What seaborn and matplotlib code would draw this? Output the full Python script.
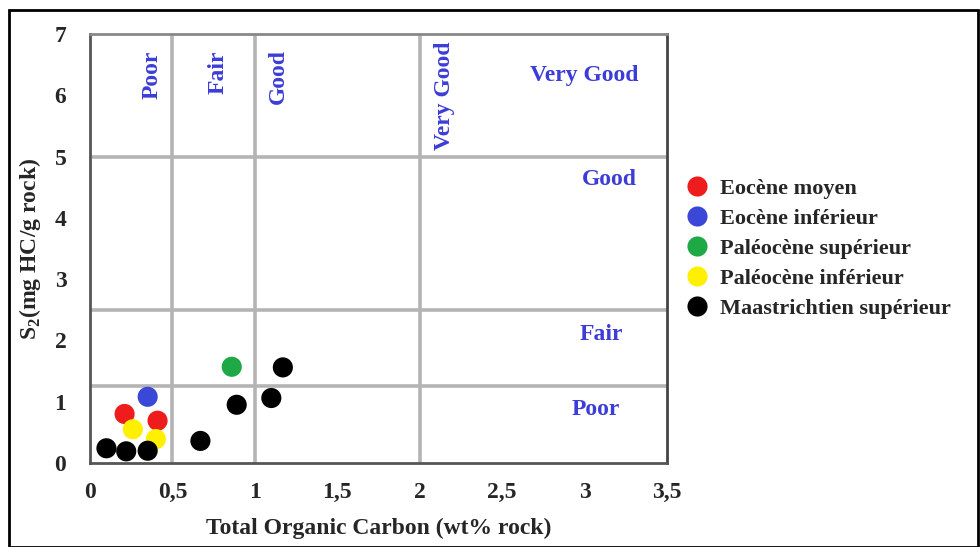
import matplotlib
matplotlib.use("Agg")
import matplotlib.pyplot as plt
import seaborn as sns
import pandas as pd
from matplotlib.ticker import MultipleLocator, FuncFormatter
from matplotlib.patches import Rectangle

# ---- data ----
formations = ["Eocène moyen", "Eocène inférieur", "Paléocène supérieur",
              "Paléocène inférieur", "Maastrichtien supérieur"]
colors = ["#ee1c1c", "#3b47d6", "#1fa846", "#fff000", "#000000"]

toc_eocene_moyen = [0.21, 0.41]
s2_eocene_moyen = [0.80, 0.69]
toc_eocene_inf = [0.35]
s2_eocene_inf = [1.08]
toc_paleo_sup = [0.86]
s2_paleo_sup = [1.57]
toc_paleo_inf = [0.26, 0.40]
s2_paleo_inf = [0.55, 0.39]
toc_maas_sup = [0.10, 0.22, 0.35, 0.67, 0.89, 1.10, 1.17]
s2_maas_sup = [0.24, 0.19, 0.20, 0.36, 0.95, 1.06, 1.56]

x_ticks = [0, 0.5, 1, 1.5, 2, 2.5, 3, 3.5]
y_ticks = [0, 1, 2, 3, 4, 5, 6, 7]
toc_limits = [0.5, 1, 2]
s2_limits = [1.25, 2.5, 5]

rows = []
for name, xs, ys in [
    (formations[0], toc_eocene_moyen, s2_eocene_moyen),
    (formations[1], toc_eocene_inf, s2_eocene_inf),
    (formations[2], toc_paleo_sup, s2_paleo_sup),
    (formations[3], toc_paleo_inf, s2_paleo_inf),
    (formations[4], toc_maas_sup, s2_maas_sup),
]:
    for x, y in zip(xs, ys):
        rows.append({"TOC": x, "S2": y, "Formation": name})
df = pd.DataFrame(rows)

sns.set_style("white")
plt.rcParams["font.family"] = ["Liberation Serif", "DejaVu Serif"]
plt.rcParams["mathtext.fontset"] = "custom"
plt.rcParams["mathtext.rm"] = "Liberation Serif:bold"
plt.rcParams["mathtext.bf"] = "Liberation Serif:bold"

fig = plt.figure(figsize=(9.8, 5.47), dpi=100)
ax = fig.add_axes([0.0918, 0.1536, 0.5888, 0.7842])

grid_col = "#b4b4b4"
for x in toc_limits:
    ax.axvline(x, color=grid_col, lw=2.6, zorder=1)
for y in s2_limits:
    ax.axhline(y, color=grid_col, lw=2.6, zorder=1)

sns.scatterplot(data=df, x="TOC", y="S2", hue="Formation", hue_order=formations,
                palette=colors, s=210, edgecolor="none", ax=ax, zorder=3)

ax.set_xlim(0, 3.5)
ax.set_ylim(0, 7)
ax.set_xticks(x_ticks)
ax.set_yticks(y_ticks)
ax.xaxis.set_minor_locator(MultipleLocator(0.1))
ax.yaxis.set_minor_locator(MultipleLocator(0.2))
fmt = FuncFormatter(lambda v, p: ("%g" % v).replace(".", ","))
ax.xaxis.set_major_formatter(fmt)
ax.yaxis.set_major_formatter(fmt)
ax.tick_params(axis="both", which="major", direction="inout", length=10, width=1.6,
               color="#444444", labelsize=17)
ax.tick_params(axis="both", which="minor", direction="inout", length=5, width=1.2,
               color="#555555")
ax.tick_params(axis="x", which="major", pad=9)
ax.tick_params(axis="y", which="major", pad=12)
for lab in ax.get_xticklabels() + ax.get_yticklabels():
    lab.set_fontweight("bold")

ax.spines["left"].set_color("#555555")
ax.spines["left"].set_linewidth(2)
ax.spines["bottom"].set_color("#555555")
ax.spines["bottom"].set_linewidth(2)
ax.spines["top"].set_color("#888888")
ax.spines["top"].set_linewidth(2)
ax.spines["right"].set_color("#444444")
ax.spines["right"].set_linewidth(2)

ax.set_xlabel("Total Organic Carbon (wt% rock)", fontsize=17, fontweight="bold", labelpad=10)
ax.set_ylabel("S$_\\mathrm{2}$(mg HC/g rock)", fontsize=17, fontweight="bold", labelpad=8)

blue = "#3c3cd8"
tkw = dict(color=blue, fontweight="bold", fontsize=17, ha="center", va="center")
ax.text(0.375, 6.33, "Poor", rotation=90, **tkw)
ax.text(0.78, 6.38, "Fair", rotation=90, **tkw)
ax.text(1.14, 6.3, "Good", rotation=90, **tkw)
ax.text(2.15, 6.0, "Very Good", rotation=90, **tkw)
ax.text(3.0, 6.33, "Very Good", **tkw)
ax.text(3.15, 4.63, "Good", **tkw)
ax.text(3.1, 2.1, "Fair", **tkw)
ax.text(3.07, 0.88, "Poor", **tkw)

leg = ax.legend(loc="upper left", bbox_to_anchor=(0.679, 0.69), bbox_transform=fig.transFigure,
                frameon=False, prop={"weight": "bold", "size": 16}, handletextpad=0.05,
                labelspacing=0.42, markerscale=1.0, borderaxespad=0)

fig.add_artist(Rectangle((0.009, 0.0), 0.989, 0.982, transform=fig.transFigure,
                         fill=False, edgecolor="black", lw=2))

fig.savefig("out.png", dpi=100)
